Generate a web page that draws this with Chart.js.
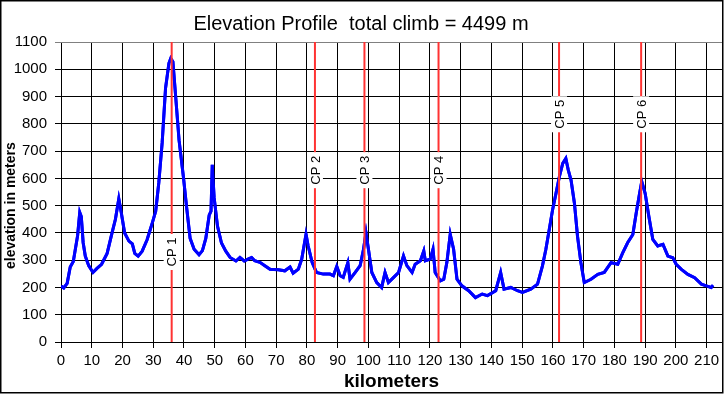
<!DOCTYPE html>
<html lang="en">
<head>
<meta charset="UTF-8">
<script src="https://cdn.jsdelivr.net/npm/chart.js@4.4.0/dist/chart.umd.min.js"></script>
<title>Elevation Profile</title>
<style>
  html, body { margin: 0; padding: 0; background: #fff; }
</style>
</head>
<body>
<canvas id="profile" width="724" height="395"></canvas>
<script>
// distance along the route (km) and elevation (m)
const km = [0, 0.9, 2, 3, 4, 5.4, 6.1, 6.6, 7.2, 7.9, 9, 10.4, 11.7, 13.2, 15, 16.6, 17.7, 18.8, 19.6, 20.7,
  22.1, 23.2, 24, 25.1, 26.4, 28, 29.7, 30.8, 31.8, 32.9, 34, 35.1, 35.7, 36.4, 37.3, 38.4, 39.8, 40.9,
  42, 43.3, 44.9, 46, 47.1, 48.2, 48.8, 49.2, 49.8, 50.9, 52.2, 53.6, 55, 56.9, 58.2, 59.6, 61, 62, 63,
  64.7, 66.3, 68, 70.7, 72.8, 74.5, 75.5, 77.2, 78.3, 79.7, 80.4, 81.7, 83.1, 85.3, 87.5, 88.6, 89.7,
  90.8, 91.8, 93.3, 94, 95.7, 97.3, 98.4, 99.2, 100, 101.1, 102.7, 104.3, 105.4, 106.5, 108.2, 109.8,
  111.4, 112.5, 114.2, 115.2, 116.9, 118, 118.5, 120.1, 121, 121.7, 123.4, 124.5, 125.5, 126.6, 127.7,
  128.8, 130.4, 132.6, 134.8, 137, 138.7, 141.4, 143, 144.1, 146.3, 148.5, 150.1, 152.8, 155, 156.6,
  157.7, 158.8, 159.9, 161, 162.1, 163.2, 164.2, 165, 165.9, 167, 168, 169.1, 170.2, 172.4, 174.6,
  176.7, 178.9, 181.1, 182.7, 184.3, 186, 187.1, 188.2, 188.9, 190, 191.2, 192.5, 194.1, 195.8, 197.4,
  199, 200.1, 201.7, 203.9, 206.1, 208.3, 209.9, 211.5, 212.1];
const elevation = [205, 198, 215, 275, 295, 390, 475, 460, 365, 315, 280, 255, 270, 285, 325, 400, 450, 525, 475, 400,
  370, 360, 325, 315, 333, 375, 437, 480, 583, 730, 930, 1022, 1040, 1028, 900, 740, 607, 490,
  380, 340, 320, 335, 380, 465, 480, 650, 530, 425, 363, 333, 310, 297, 310, 297, 305, 310, 298,
  292, 280, 267, 265, 261, 275, 252, 267, 304, 395, 352, 291, 255, 249, 249, 243, 277,
  243, 237, 291, 230, 255, 280, 340, 401, 340, 255, 218, 200, 255, 218, 237, 255,
  316, 280, 255, 285, 298, 334, 298, 304, 340, 255, 224, 230, 291, 395, 340,
  230, 206, 188, 163, 176, 170, 188, 255, 194, 200, 188, 182, 194, 212, 279,
  339, 412, 485, 545, 606, 655, 673, 630, 594, 509, 388, 291, 218, 230, 248,
  255, 291, 285, 327, 364, 394, 473, 545, 588, 545, 461, 376, 352, 358, 315,
  309, 285, 267, 248, 236, 212, 206, 200, 208];

// checkpoints
const cpNames = ['CP 1', 'CP 2', 'CP 3', 'CP 4', 'CP 5', 'CP 6'];
const cpKm = [36, 82.6, 98.7, 122.8, 162, 188.7];

const font = '"Liberation Sans", Arial, sans-serif';

// grid + tick marks from the scale ticks, then the profile line again on top,
// then the checkpoint lines with their labels
const overlay = {
  id: 'overlay',
  afterDatasetsDraw(chart, args, opts) {
    const {ctx, chartArea: a, scales: {x, y}} = chart;
    const align = p => Math.round(p - 0.5) + 0.5;

    ctx.save();
    ctx.lineWidth = 1;
    ctx.strokeStyle = '#000';
    x.ticks.forEach(t => {
      const px = align(x.getPixelForValue(t.value));
      ctx.beginPath();
      ctx.moveTo(px, a.top);
      ctx.lineTo(px, a.bottom + 6);
      ctx.stroke();
    });
    y.ticks.forEach(t => {
      const py = align(y.getPixelForValue(t.value));
      ctx.strokeStyle = t.value === y.max ? '#808080' : '#000';
      ctx.beginPath();
      ctx.moveTo(a.left - 6, py);
      ctx.lineTo(a.right, py);
      ctx.stroke();
    });
    ctx.restore();

    const meta = chart.getDatasetMeta(0);
    ctx.save();
    ctx.beginPath();
    ctx.rect(a.left, a.top - 3, a.right - a.left, a.bottom - a.top + 6);
    ctx.clip();
    meta.dataset.draw(ctx, a);
    ctx.restore();

    cpKm.forEach((k, i) => {
      const px = x.getPixelForValue(k);
      ctx.save();
      ctx.strokeStyle = '#ff3333';
      ctx.lineWidth = 2;
      ctx.beginPath();
      ctx.moveTo(px, a.top);
      ctx.lineTo(px, a.bottom);
      ctx.stroke();
      const py = y.getPixelForValue(opts.labelAt[i]);
      ctx.fillStyle = '#fff';
      ctx.fillRect(px - 8, py - 18, 16, 36);
      ctx.translate(px, py);
      ctx.rotate(-Math.PI / 2);
      ctx.fillStyle = '#000';
      ctx.font = '13px ' + font;
      ctx.textAlign = 'center';
      ctx.textBaseline = 'middle';
      ctx.fillText(cpNames[i], 0, 1);
      ctx.restore();
    });
  }
};

const frame = {
  id: 'frame',
  afterDraw(chart) {
    const ctx = chart.ctx;
    ctx.save();
    ctx.strokeStyle = '#000';
    ctx.lineWidth = 1.5;
    ctx.strokeRect(0.75, 0.75, 722, 392);
    ctx.restore();
  }
};

new Chart(document.getElementById('profile'), {
  type: 'line',
  data: {
    datasets: [{
      data: km.map((k, i) => ({x: k, y: elevation[i]})),
      borderColor: '#0000ff',
      borderWidth: 3,
      pointRadius: 0,
      fill: false
    }]
  },
  options: {
    responsive: false,
    animation: false,
    devicePixelRatio: 1,
    layout: {padding: {left: 0, right: 2, top: 0, bottom: 1}},
    plugins: {
      legend: {display: false},
      tooltip: {enabled: false},
      title: {
        display: true,
        text: 'Elevation Profile  total climb = 4499 m',
        color: '#000',
        font: {family: font, size: 20, weight: 'normal'},
        padding: {top: 12, bottom: 6}
      },
      overlay: {labelAt: [330, 630, 630, 630, 835, 835]}
    },
    scales: {
      x: {
        type: 'linear', min: 0, max: 215,
        afterFit(scale) { scale.height = 52; },
        ticks: {stepSize: 10, includeBounds: false, autoSkip: false, maxRotation: 0, color: '#000', padding: 4, font: {family: font, size: 15}},
        grid: {color: '#000', lineWidth: 1, tickLength: 6},
        border: {color: '#000'},
        title: {
          display: true,
          text: 'kilometers',
          color: '#000',
          font: {family: font, size: 19, weight: 'bold'},
          padding: {top: 0, bottom: 1}
        }
      },
      y: {
        min: 0, max: 1100,
        afterFit(scale) { scale.width = 61; },
        ticks: {stepSize: 100, color: '#000', padding: 8, font: {family: font, size: 15}, callback: v => String(v)},
        grid: {color: c => (c.tick && c.tick.value === 1100 ? '#808080' : '#000'), lineWidth: 1, tickLength: 6},
        border: {color: '#000'},
        title: {
          display: true,
          text: 'elevation in meters       ',
          color: '#000',
          font: {family: font, size: 14, weight: 'bold'},
          padding: {top: 3, bottom: 0}
        }
      }
    }
  },
  plugins: [overlay, frame]
});
</script>
</body>
</html>
